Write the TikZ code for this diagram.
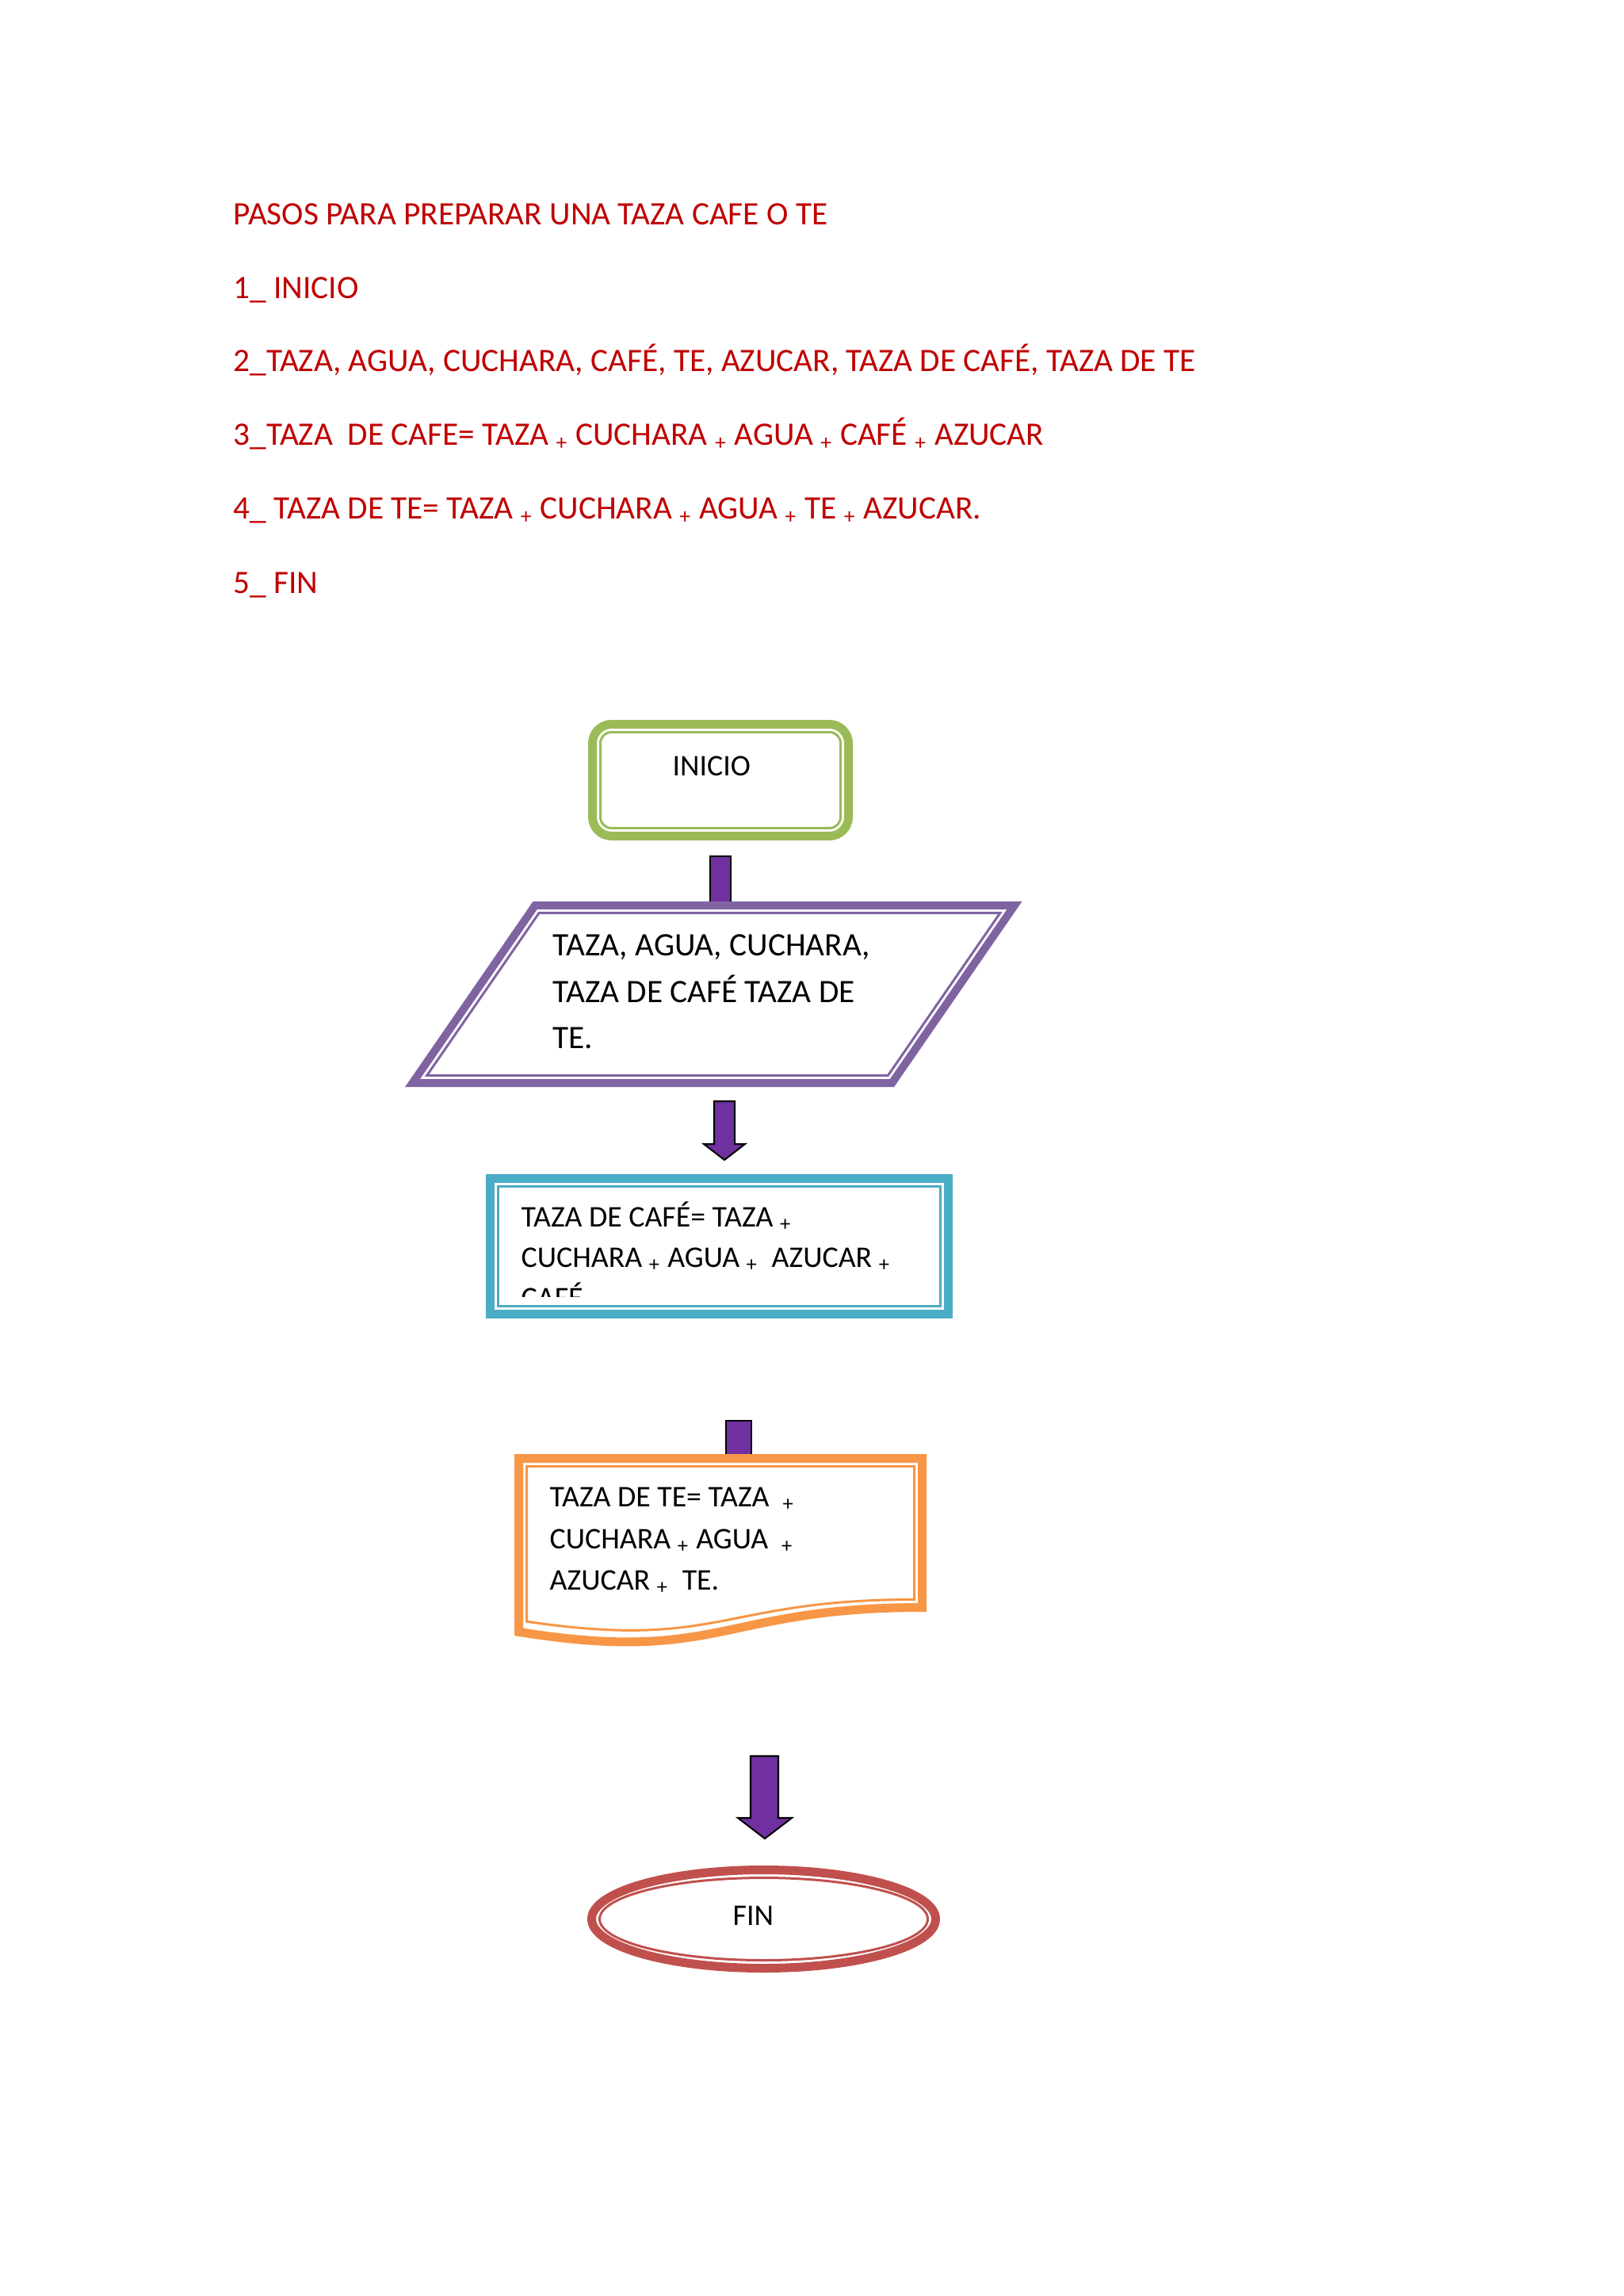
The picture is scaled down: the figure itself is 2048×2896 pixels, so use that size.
\documentclass[tikz,border=0pt]{standalone}
\usepackage{fontspec}
\setmainfont{Carlito}
\definecolor{hdr}{RGB}{192,0,0}
\definecolor{cgreen}{HTML}{9BBB59}
\definecolor{cpurple}{HTML}{8064A2}
\definecolor{cblue}{HTML}{4BACC6}
\definecolor{corange}{HTML}{F79646}
\definecolor{cred}{HTML}{C0504D}
\definecolor{arrowfill}{HTML}{7030A0}
\newcommand\plussub{\textsubscript{+}}
\tikzset{
 hdrtext/.style={anchor=base west, inner sep=0pt, text=hdr, font=\fontsize{12pt}{14pt}\selectfont},
 boxtext/.style={anchor=base west, inner sep=0pt, text=black, font=\fontsize{11pt}{13pt}\selectfont},
 bigboxtext/.style={boxtext, font=\fontsize{12pt}{14pt}\selectfont},
 thickline/.style={line width=3.2pt, draw=#1, fill=white, line join=miter},
 thinline/.style={line width=0.87pt, draw=#1, line join=miter},
 blockarrow/.style={fill=arrowfill, draw=black, line width=0.6pt, line join=miter},
}
\begin{document}
\begin{tikzpicture}[x=0.29067pt, y=-0.29067pt]
\useasboundingbox (0,0) rectangle (2048,2896);
\fill[white] (0,0) rectangle (2048,2896);

% header text
\node[hdrtext] (h0) at (294,283) {PASOS PARA PREPARAR UNA TAZA CAFE O TE};
\node[hdrtext] (h1) at (294,376) {1\_ INICIO};
\node[hdrtext] (h2) at (294,468) {2\_TAZA, AGUA, CUCHARA, CAF\'E, TE, AZUCAR, TAZA DE CAF\'E, TAZA DE TE};
\node[hdrtext] (h3) at (294,561) {3\_TAZA\ \ DE CAFE= TAZA \plussub{} CUCHARA \plussub{} AGUA \plussub{} CAF\'E \plussub{} AZUCAR};
\node[hdrtext] (h4) at (294,654) {4\_ TAZA DE TE= TAZA \plussub{} CUCHARA \plussub{} AGUA \plussub{} TE \plussub{} AZUCAR.};
\node[hdrtext] (h5) at (294,748) {5\_ FIN};

% connector shafts (partly hidden behind the shapes)
\draw[blockarrow] (896,1080) rectangle (922,1142);
\draw[blockarrow] (916,1792) rectangle (948,1840);

% INICIO
\draw[thickline=cgreen, rounded corners=7pt] (747.5,913.5) rectangle (1070.5,1054.5);
\draw[thinline=cgreen, rounded corners=4pt] (757.5,923.5) rectangle (1060.5,1044.5);
\node[boxtext] (inicio) at (848,978) {INICIO};

% parallelogram
\draw[thickline=cpurple, line width=2.9pt] (675.1,1142) -- (1280,1142) -- (1125.4,1366) -- (520.5,1366) -- cycle;
\draw[thinline=cpurple] (680.1,1151.5) -- (1261.9,1151.5) -- (1120.4,1356.5) -- (538.6,1356.5) -- cycle;
\node[bigboxtext] (p1) at (697,1205) {TAZA, AGUA, CUCHARA,};
\node[bigboxtext] (p2) at (697,1264) {TAZA DE CAF\'E TAZA DE};
\node[bigboxtext] (p3) at (697,1322) {TE.};

% arrow 2
\draw[blockarrow] (901,1389) -- (927,1389) -- (927,1443) -- (940,1443) -- (914,1463) -- (888,1443) -- (901,1443) -- cycle;

% blue box
\draw[thickline=cblue] (618.5,1486.5) rectangle (1196.5,1657.5);
\draw[thinline=cblue] (628.5,1496.5) rectangle (1186.5,1647.5);
\node[boxtext] (b1) at (657,1547) {TAZA DE CAF\'E= TAZA \plussub};
\node[boxtext] (b2) at (657,1598) {CUCHARA \plussub{} AGUA \plussub{}\ \ AZUCAR \plussub};
\begin{scope}
\clip (640,1500) rectangle (1180,1635);
\node[boxtext] (b3) at (657,1649) {CAF\'E};
\end{scope}

% orange document shape
\draw[thickline=corange] (654.5,1839.5) -- (1163.5,1839.5) -- (1163.5,2027.5)
  .. controls (909,2027.5) and (909,2099.1) .. (654.5,2058.4) -- cycle;
\draw[thinline=corange] (664.5,1849.5) -- (1153.5,1849.5) -- (1153.5,2017.5)
  .. controls (909,2017.5) and (909,2081.5) .. (664.5,2045.2) -- cycle;
\node[boxtext] (o1) at (693,1900) {TAZA DE TE= TAZA\ \ \plussub};
\node[boxtext] (o2) at (693,1953) {CUCHARA \plussub{} AGUA\ \ \plussub};
\node[boxtext] (o3) at (693,2005) {AZUCAR \plussub{}\ \ TE.};

% arrow 3
\draw[blockarrow] (947,2215) -- (982,2215) -- (982,2293) -- (999,2293) -- (965,2319) -- (931,2293) -- (947,2293) -- cycle;

% FIN ellipse
\draw[thickline=cred] (963.5,2420.5) ellipse [x radius=217, y radius=62];
\draw[thinline=cred] (963.5,2420.5) ellipse [x radius=207, y radius=52];
\node[boxtext] (fin) at (924,2428) {FIN};
\end{tikzpicture}
\end{document}
